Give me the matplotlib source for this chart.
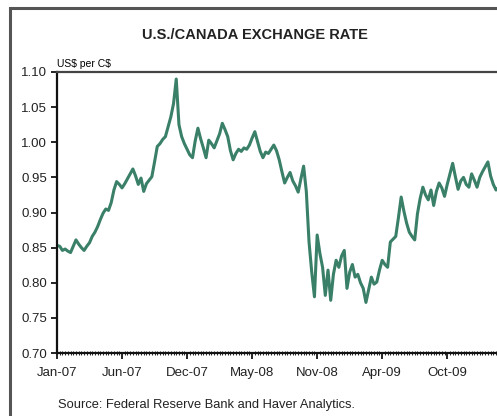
import numpy as np
import pandas as pd
import matplotlib
matplotlib.use('Agg')
import matplotlib.pyplot as plt
from matplotlib.patches import Rectangle
from matplotlib.ticker import MultipleLocator

plt.rcParams['font.family'] = ['Liberation Sans', 'DejaVu Sans']

# weekly US$ per C$, first week of Jan-07 onward
rate = [0.853, 0.852, 0.846, 0.848, 0.845, 0.843, 0.852, 0.861, 0.855, 0.850,
        0.846, 0.852, 0.857, 0.866, 0.872, 0.880, 0.890, 0.899, 0.905, 0.903,
        0.914, 0.932, 0.944, 0.940, 0.935, 0.941, 0.948, 0.955, 0.962, 0.952,
        0.940, 0.949, 0.930, 0.941, 0.946, 0.951, 0.972, 0.994, 0.998, 1.004,
        1.008, 1.022, 1.036, 1.055, 1.090, 1.025, 1.008, 0.998, 0.990, 0.982,
        0.978, 1.002, 1.020, 1.005, 0.992, 0.978, 1.003, 0.998, 0.992, 1.002,
        1.012, 1.027, 1.018, 1.008, 0.988, 0.975, 0.984, 0.990, 0.987, 0.992,
        0.990, 0.996, 1.006, 1.015, 1.001, 0.987, 0.978, 0.986, 0.984, 0.990,
        0.996, 0.988, 0.975, 0.958, 0.942, 0.950, 0.957, 0.945, 0.938, 0.929,
        0.948, 0.966, 0.930, 0.858, 0.815, 0.780, 0.868, 0.842, 0.822, 0.782,
        0.818, 0.775, 0.812, 0.832, 0.822, 0.838, 0.846, 0.792, 0.815, 0.826,
        0.808, 0.812, 0.800, 0.792, 0.772, 0.790, 0.808, 0.798, 0.801, 0.818,
        0.832, 0.826, 0.822, 0.858, 0.862, 0.866, 0.893, 0.922, 0.902, 0.885,
        0.872, 0.866, 0.861, 0.898, 0.920, 0.936, 0.925, 0.918, 0.932, 0.910,
        0.930, 0.942, 0.935, 0.923, 0.940, 0.955, 0.970, 0.951, 0.933, 0.945,
        0.950, 0.940, 0.936, 0.955, 0.946, 0.936, 0.950, 0.958, 0.965, 0.972,
        0.952, 0.940, 0.932, 0.936]

tick_labels = ['Jan-07', 'Jun-07', 'Dec-07', 'May-08', 'Nov-08', 'Apr-09', 'Oct-09']
tick_every = 24  # weeks between labels

fig = plt.figure(figsize=(4.97, 4.16), dpi=100)

# outer frame (chart is cropped on the right and bottom)
fig.patches.append(Rectangle((10/497, -0.2), 1.2, 1.2 - 8/416,
                             transform=fig.transFigure, fill=False,
                             edgecolor='#555555', linewidth=2.2))

ax = fig.add_axes([57/497, 63/416, 170*2.71/497, 281/416])
x = np.arange(len(rate))
ax.plot(x, rate, color='#3a8068', linewidth=2.2, solid_joinstyle='round')

ax.set_xlim(0, 170)
ax.set_ylim(0.70, 1.10)
yt = np.arange(0.70, 1.101, 0.05)
ax.set_yticks(yt)
ax.set_yticklabels([f'{v:.2f}' for v in yt], fontsize=9.5, color='#222222')
ax.set_xticks(np.arange(len(tick_labels)) * tick_every)
ax.set_xticklabels(tick_labels, fontsize=9.5, color='#222222')
ax.xaxis.set_minor_locator(MultipleLocator(1))

ax.tick_params(axis='y', direction='out', length=4, width=1.2, pad=3)
ax.tick_params(axis='x', which='major', direction='out', length=4, width=1.2, pad=6)
ax.tick_params(axis='x', which='minor', direction='inout', length=3, width=0.6)

for s in ['left', 'bottom']:
    ax.spines[s].set_linewidth(1.6)
    ax.spines[s].set_color('#111111')
ax.spines['top'].set_linewidth(1.6)
ax.spines['top'].set_color('#444444')
ax.spines['right'].set_visible(False)

fig.text(255/497, 1 - 35/416, 'U.S./CANADA EXCHANGE RATE', ha='center', va='center',
         fontsize=10.5, fontweight='bold', color='#222222')
ax.text(0.0, 1.01, r'US\$ per C\$', transform=ax.transAxes, ha='left', va='bottom',
        fontsize=7.5)
fig.text(58/497, 1 - 405/416, 'Source: Federal Reserve Bank and Haver Analytics.',
         ha='left', va='center', fontsize=9.3, color='#222222')

fig.savefig('out.png', dpi=100)
